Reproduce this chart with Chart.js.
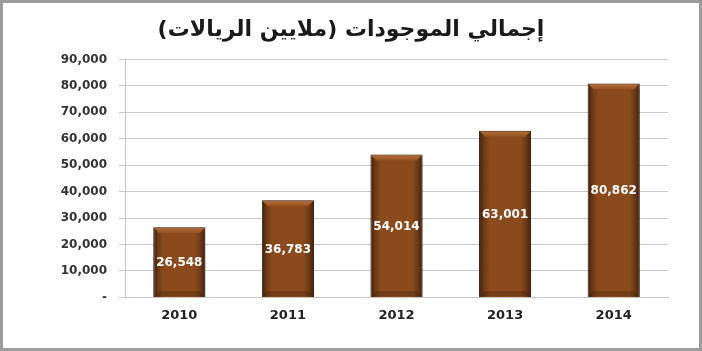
<!DOCTYPE html>
<html>
<head>
<meta charset="utf-8">
<script src="https://cdn.jsdelivr.net/npm/chart.js@4.4.1/dist/chart.umd.min.js"></script>
<style>
  html, body { margin: 0; padding: 0; background: #fff; }
  #box {
    width: 702px; height: 351px; box-sizing: border-box;
    border: 3px solid #9c9c9c; background: #fff; position: relative;
  }
</style>
</head>
<body>
<div id="box"><canvas id="myChart1" width="696" height="345"></canvas></div>
<script>
// data ==========================================
const years = ["2010", "2011", "2012", "2013", "2014"];
const assets = [26548, 36783, 54014, 63001, 80862];
const chartTitle = "إجمالي الموجودات (ملايين الريالات)";
const yMax = 90000;
const yStep = 10000;

Chart.defaults.font.family = "'DejaVu Sans', sans-serif";

// brown bar, darker at the sides
function barFill(ctx) {
  const chart = ctx.chart;
  const xs = chart.scales.x;
  if (!chart.chartArea || !xs || ctx.type !== "data") return "#87481c";
  const cx = xs.getPixelForValue(ctx.dataIndex);
  const w = (xs.width / years.length) * 0.48;
  const g = chart.ctx.createLinearGradient(cx - w / 2, 0, cx + w / 2, 0);
  g.addColorStop(0, "#3e200b");
  g.addColorStop(0.1, "#6e3b16");
  g.addColorStop(0.2, "#8a4a1c");
  g.addColorStop(0.8, "#8a4a1c");
  g.addColorStop(0.9, "#6e3b16");
  g.addColorStop(1, "#3e200b");
  return g;
}

const bevel = {
  id: "bevel",
  beforeDatasetsDraw(chart) {
    const c = chart.ctx;
    c.save();
    c.shadowColor = "rgba(0,0,0,0.35)";
    c.shadowBlur = 4;
    c.shadowOffsetX = 2;
    c.shadowOffsetY = 1;
  },
  afterDatasetsDraw(chart) {
    const c = chart.ctx;
    c.restore();
    const meta = chart.getDatasetMeta(0);
    meta.data.forEach(function (bar, i) {
      const p = bar.getProps(["x", "y", "base", "width"], true);
      const l = p.x - p.width / 2, r = p.x + p.width / 2, b = 6;
      // top bevel
      const gt = c.createLinearGradient(0, p.y, 0, p.y + b);
      gt.addColorStop(0, "#b8733a");
      gt.addColorStop(1, "#93501f");
      c.fillStyle = gt;
      c.beginPath();
      c.moveTo(l + 1, p.y + 1);
      c.lineTo(r - 1, p.y + 1);
      c.lineTo(r - b, p.y + b);
      c.lineTo(l + b, p.y + b);
      c.closePath();
      c.fill();
      // bottom bevel
      c.fillStyle = "rgba(40,20,5,0.22)";
      c.beginPath();
      c.moveTo(l + 1, p.base - 1);
      c.lineTo(r - 1, p.base - 1);
      c.lineTo(r - b, p.base - b);
      c.lineTo(l + b, p.base - b);
      c.closePath();
      c.fill();
      // value label
      c.fillStyle = "#ffffff";
      c.font = "bold 12px 'DejaVu Sans', sans-serif";
      c.textAlign = "center";
      c.textBaseline = "middle";
      c.fillText(assets[i].toLocaleString("en-US"), p.x, (p.y + p.base) / 2 + 1);
    });
  },
};

const data = {
  labels: years,
  datasets: [
    {
      label: chartTitle,
      data: assets,
      backgroundColor: barFill,
      borderColor: "#3b1d09",
      borderWidth: 1,
      barPercentage: 0.48,
      categoryPercentage: 1,
    },
  ],
};

const config = {
  type: "bar",
  data: data,
  plugins: [bevel],
  options: {
    responsive: false,
    animation: false,
    layout: { padding: { top: 4, right: 31, bottom: 15, left: 31 } },
    plugins: {
      legend: { display: false },
      tooltip: { enabled: false },
      title: {
        display: true,
        text: chartTitle,
        color: "#1a1a1a",
        font: { size: 22, weight: "bold" },
        padding: { top: 10, bottom: 16 },
      },
    },
    scales: {
      x: {
        grid: { display: false, drawTicks: false },
        border: { display: true, color: "#c4c4c4" },
        ticks: {
          color: "#222",
          padding: 10,
          font: { size: 13, weight: "bold" },
        },
      },
      y: {
        min: 0,
        max: yMax,
        afterFit: function (scale) { scale.width = 91; },
        grid: { color: "#c9c9c9", tickLength: 6 },
        border: { color: "#c4c4c4" },
        ticks: {
          stepSize: yStep,
          padding: 12,
          color: "#333",
          font: { size: 12, weight: "bold" },
          callback: function (v) { return v === 0 ? "-" : v.toLocaleString("en-US"); },
        },
      },
    },
  },
};

const myChart = new Chart(document.getElementById("myChart1"), config);
</script>
</body>
</html>
